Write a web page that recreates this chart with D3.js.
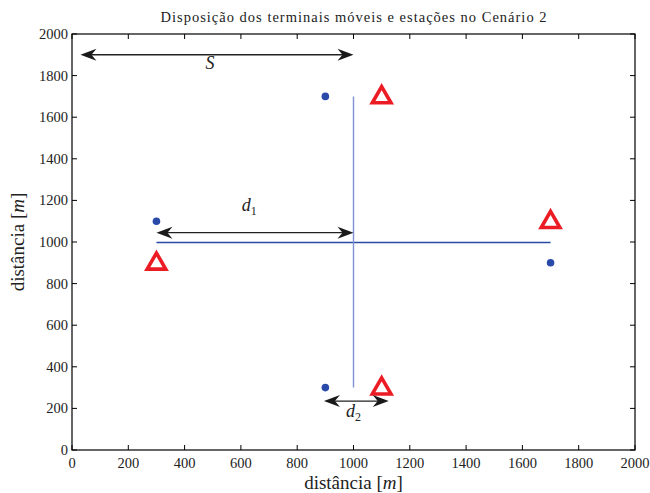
<!DOCTYPE html>
<html><head><meta charset="utf-8">
<script src="https://cdn.jsdelivr.net/npm/d3@7"></script>
<style>body{margin:0;background:#fff}svg{display:block}text{font-family:"Liberation Serif","DejaVu Serif",serif;fill:#222}</style>
</head><body><svg id="c" width="650" height="493"></svg>
<script>
const xTicks=[0,200,400,600,800,1000,1200,1400,1600,1800,2000];
const yTicks=[0,200,400,600,800,1000,1200,1400,1600,1800,2000];
const terminals=[[900,1700],[300,1100],[1700,900],[900,300]];
const stations=[[1100,1700],[300,900],[1700,1100],[1100,300]];
const hLine=[[300,1000],[1700,1000]];
const vLine=[[1000,300],[1000,1700]];
const arrows=[{x1:30,y1:1900,x2:1000,y2:1900,label:"S",sub:"",lx:490,ly:1830},
              {x1:300,y1:1045,x2:1000,y2:1045,label:"d",sub:"1",lx:630,ly:1150},
              {x1:895,y1:235,x2:1125,y2:235,label:"d",sub:"2",lx:1000,ly:158}];
const svg=d3.select("#c");
const L=72,R=635,T=34,B=450;
const x=d3.scaleLinear().domain([0,2000]).range([L,R]);
const y=d3.scaleLinear().domain([0,2000]).range([B,T]);
const g=svg.append("g");
const line=d3.line().x(d=>x(d[0])).y(d=>y(d[1]));
g.append("path").attr("d",line(hLine)).attr("stroke","#2a48a6").attr("fill","none").attr("stroke-width",1.3).attr("transform","translate(0,0.5)");
g.append("path").attr("d",line(vLine)).attr("stroke","#7f93d4").attr("fill","none").attr("stroke-width",1.4);
g.selectAll("circle.t").data(terminals).join("circle").attr("cx",d=>x(d[0])).attr("cy",d=>y(d[1])).attr("r",3.8).attr("fill","#2a4aaa");
const tri=d3.symbol().type(d3.symbolTriangle).size(150);
g.selectAll("path.s").data(stations).join("path").attr("transform",d=>`translate(${x(d[0])},${y(d[1])+1})`).attr("d",tri).attr("fill","#fff").attr("stroke","#ec1c24").attr("stroke-width",3.6).attr("stroke-linejoin","miter");
function head(px,py,dir){
  const l=16,w=6,k=11;
  return `M${px},${py}L${px-dir*l},${py-w}L${px-dir*k},${py}L${px-dir*l},${py+w}Z`;
}
arrows.forEach(a=>{
  const X1=x(a.x1),X2=x(a.x2),Y=y(a.y1);
  g.append("line").attr("x1",X1+4).attr("x2",X2-4).attr("y1",Y).attr("y2",Y).attr("stroke","#222").attr("stroke-width",1.4);
  g.append("path").attr("d",head(X1,Y,-1)).attr("fill","#1a1a1a");
  g.append("path").attr("d",head(X2,Y,1)).attr("fill","#1a1a1a");
  const t=g.append("text").attr("x",x(a.lx)).attr("y",y(a.ly)).attr("text-anchor","middle").attr("font-size",18).attr("font-style","italic");
  t.append("tspan").text(a.label);
  if(a.sub) t.append("tspan").attr("font-size",12).attr("font-style","normal").attr("dy",4).text(a.sub);
});
svg.append("rect").attr("x",L).attr("y",T).attr("width",R-L).attr("height",B-T).attr("fill","none").attr("stroke","#000").attr("stroke-width",1.2);
const tl=5;
xTicks.forEach(v=>{
  svg.append("line").attr("x1",x(v)).attr("x2",x(v)).attr("y1",B).attr("y2",B-tl).attr("stroke","#000");
  svg.append("line").attr("x1",x(v)).attr("x2",x(v)).attr("y1",T).attr("y2",T+tl).attr("stroke","#000");
});
yTicks.forEach(v=>{
  svg.append("line").attr("x1",L).attr("x2",L+tl).attr("y1",y(v)).attr("y2",y(v)).attr("stroke","#000");
  svg.append("line").attr("x1",R).attr("x2",R-tl).attr("y1",y(v)).attr("y2",y(v)).attr("stroke","#000");
});
svg.selectAll("text.xt").data(xTicks).join("text").attr("x",d=>x(d)).attr("y",B+18).attr("text-anchor","middle").attr("font-size",14.5).text(d=>d);
svg.selectAll("text.yt").data(yTicks).join("text").attr("x",L-4).attr("y",d=>y(d)+5).attr("text-anchor","end").attr("font-size",14.5).text(d=>d);
const xl=svg.append("text").attr("x",(L+R)/2).attr("y",489).attr("text-anchor","middle").attr("font-size",19);
xl.append("tspan").text("distância ");xl.append("tspan").text("[");xl.append("tspan").attr("font-style","italic").text("m");xl.append("tspan").text("]");
const yl=svg.append("text").attr("transform",`translate(24,${(T+B)/2}) rotate(-90)`).attr("text-anchor","middle").attr("font-size",19);
yl.append("tspan").text("distância ");yl.append("tspan").text("[");yl.append("tspan").attr("font-style","italic").text("m");yl.append("tspan").text("]");
svg.append("text").attr("x",(L+R)/2).attr("y",22).attr("text-anchor","middle").attr("font-size",14.5).attr("textLength",386).attr("lengthAdjust","spacing").text("Disposição dos terminais móveis e estações no Cenário 2");
</script></body></html>
